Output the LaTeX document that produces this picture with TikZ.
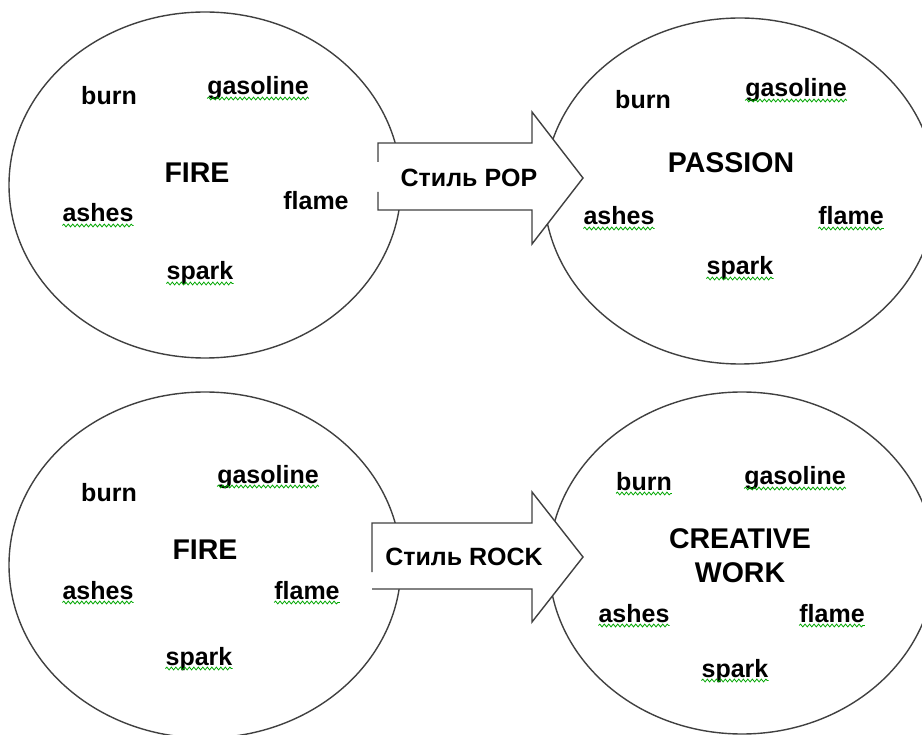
\documentclass[tikz,border=0pt]{standalone}
\usepackage{fontspec}
\setmainfont{Liberation Sans}
\usetikzlibrary{shapes.geometric,decorations.pathmorphing}

\begin{document}
\begin{tikzpicture}[x=1pt,y=-1pt,
	bubble/.style={ellipse, draw=black!75, line width=1.4pt, minimum width=392pt, minimum height=346pt, inner sep=0pt},
	word/.style={anchor=base, inner sep=0pt, font=\fontsize{25}{29}\selectfont\bfseries},
	topic/.style={anchor=base, inner sep=0pt, font=\fontsize{28.5}{33}\selectfont\bfseries},
	blockarrow/.style={draw=black!75, line width=1.4pt, line join=miter},
	squiggle/.style={draw=green!65!black, line width=0.8pt, decorate, decoration={snake, amplitude=1.4pt, segment length=4.5pt}}
	]
	\useasboundingbox (0,0) rectangle (922,735);

	% the four clouds
	\node (firering) [bubble] at (205,185) {};
	\node (passionring) [bubble] at (740,191) {};
	\node (fireringb) [bubble] at (205,565) {};
	\node (creativering) [bubble, minimum width=386pt, minimum height=342pt] at (742,563) {};

	% POP arrow
	\fill [white] (378,143) -- (532,143) -- (532,112) -- (583,178) -- (532,244) -- (532,210) -- (378,210) -- cycle;
	\draw [blockarrow] (378,162) -- (378,143) -- (532,143) -- (532,112) -- (583,178) -- (532,244) -- (532,210) -- (378,210) -- (378,192);
	\node (pop) [word] at (469,187) {Стиль POP};

	% ROCK arrow
	\fill [white] (372,523) -- (532,523) -- (532,492) -- (583,557) -- (532,622) -- (532,589) -- (372,589) -- cycle;
	\draw [blockarrow] (372,572) -- (372,523) -- (532,523) -- (532,492) -- (583,557) -- (532,622) -- (532,589) -- (372,589);
	\node (rock) [word] at (464,565) {Стиль ROCK};

	% words, top left
	\node (fire1) [topic] at (197,183) {FIRE};
	\node (burn1) [word] at (109,105) {burn};
	\node (gas1) [word] at (258,95) {gasoline};
	\node (flame1) [word] at (316,210) {flame};
	\node (ash1) [word] at (98,222) {ashes};
	\node (spark1) [word] at (200,280) {spark};

	% words, top right
	\node (passion) [topic] at (731,173) {PASSION};
	\node (burn2) [word] at (643,109) {burn};
	\node (gas2) [word] at (796,97) {gasoline};
	\node (flame2) [word] at (851,225) {flame};
	\node (ash2) [word] at (619,225) {ashes};
	\node (spark2) [word] at (740,275) {spark};

	% words, bottom left
	\node (fire3) [topic] at (205,559) {FIRE};
	\node (burn3) [word] at (109,501) {burn};
	\node (gas3) [word] at (268,483) {gasoline};
	\node (flame3) [word] at (307,599) {flame};
	\node (ash3) [word] at (98,599) {ashes};
	\node (spark3) [word] at (199,665) {spark};

	% words, bottom right
	\node (creative) [topic] at (740,548) {CREATIVE};
	\node (work) [topic] at (740,582) {WORK};
	\node (burn4) [word] at (644,490) {burn};
	\node (gas4) [word] at (795,485) {gasoline};
	\node (flame4) [word] at (832,622) {flame};
	\node (ash4) [word] at (634,622) {ashes};
	\node (spark4) [word] at (735,677) {spark};

	% spell-check marks
	\foreach \w in {gas1,ash1,spark1,gas2,ash2,flame2,spark2,gas3,ash3,flame3,spark3,burn4,gas4,ash4,flame4,spark4}
		\draw [squiggle] ([yshift=-3.5pt]\w.base west) -- ([yshift=-3.5pt]\w.base east);

\end{tikzpicture}
\end{document}
